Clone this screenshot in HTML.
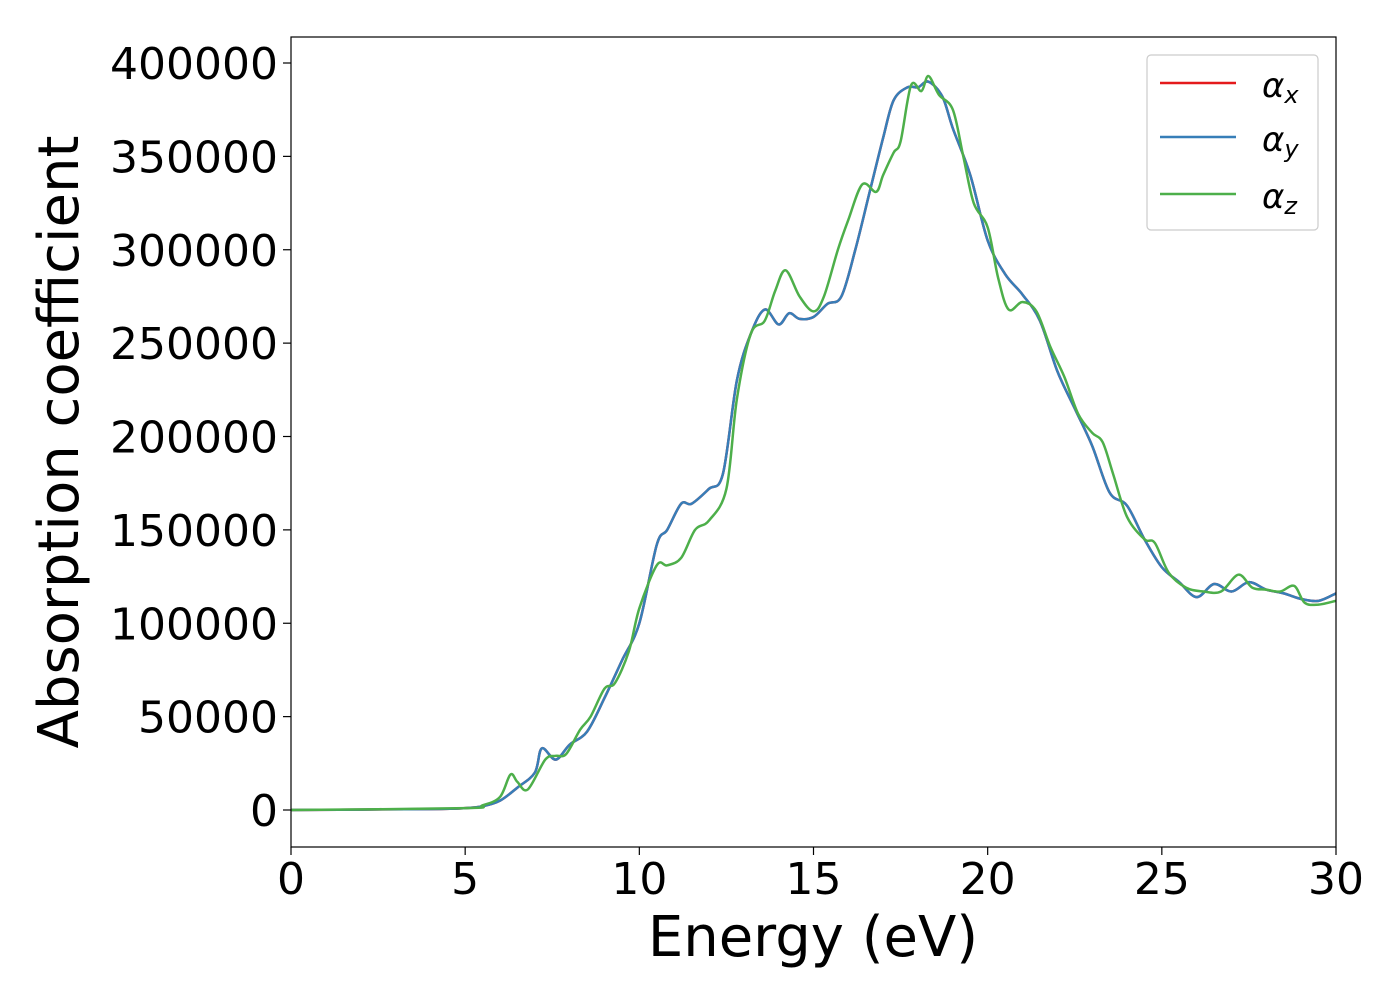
<!DOCTYPE html>
<html><head><meta charset="utf-8"><style>
body{margin:0;background:#fff;}
svg text{font-family:"DejaVu Sans","Liberation Sans",sans-serif;}
</style></head><body>
<svg id="chart" width="1400" height="1000" xmlns="http://www.w3.org/2000/svg">
<rect width="1400" height="1000" fill="#fff"/>
<g id="ticks"></g>
<g id="series"></g>
<rect x="291" y="37" width="1045" height="810" fill="none" stroke="#000" stroke-width="1.2"/>
<text x="813" y="956" font-size="56" text-anchor="middle">Energy (eV)</text>
<text transform="translate(78,442) rotate(-90)" font-size="56" text-anchor="middle">Absorption coefficient</text>
<g>
<rect x="1147" y="55" width="171" height="175" rx="4" fill="#fff" stroke="#ccc" stroke-width="1.2"/>
<line x1="1160" y1="83" x2="1236" y2="83" stroke="#e41a1c" stroke-width="2.5"/>
<line x1="1160" y1="137" x2="1236" y2="137" stroke="#377eb8" stroke-width="2.5"/>
<line x1="1160" y1="194" x2="1236" y2="194" stroke="#4daf4a" stroke-width="2.5"/>
<text x="1262" y="97" font-size="34" font-style="italic">α<tspan font-size="24" dy="6">x</tspan></text>
<text x="1262" y="151" font-size="34" font-style="italic">α<tspan font-size="24" dy="6">y</tspan></text>
<text x="1262" y="208" font-size="34" font-style="italic">α<tspan font-size="24" dy="6">z</tspan></text>
</g>
</svg>
<script>
const xTicks=[0,5,10,15,20,25,30];
const yTicks=[0,50000,100000,150000,200000,250000,300000,350000,400000];
const energyXY=[0,4,5,5.5,6,6.5,7,7.2,7.6,8,8.5,9,9.5,10,10.5,10.8,11.2,11.5,12,12.4,12.8,13.2,13.6,14,14.3,14.6,15,15.4,15.8,16.2,16.6,17,17.3,17.7,18,18.3,18.7,19,19.5,20,20.5,21,21.5,22,22.5,23,23.5,24,24.5,25,25.5,26,26.5,27,27.5,28,28.5,29,29.5,30];
const alphaXY=[0,500,1000,2000,5000,12000,20000,33000,27000,35000,42000,60000,80000,100000,142000,150000,164000,164000,172000,180000,230000,255000,268000,260000,266000,263000,264000,271000,275000,300000,330000,360000,380000,387000,387000,390000,382000,365000,340000,305000,287000,276000,262000,235000,215000,195000,170000,163000,145000,130000,122000,114000,121000,117000,122000,118000,116000,113000,112000,116000];
const energyZ=[0,5,5.5,6,6.3,6.5,6.8,7.3,7.6,7.9,8.3,8.6,9,9.3,9.7,10,10.5,10.8,11.2,11.6,12,12.5,12.8,13.2,13.6,13.9,14.2,14.6,15,15.3,15.7,16,16.4,16.8,17,17.3,17.5,17.8,18.1,18.3,18.6,19,19.3,19.6,20,20.3,20.6,21,21.4,21.8,22.2,22.6,23,23.3,23.6,24,24.5,24.8,25.2,25.7,26.2,26.7,27.2,27.6,28,28.4,28.8,29.1,29.5,30];
const alphaZ=[0,1000,2500,7000,19000,15000,11000,27000,29000,30000,43000,50000,65000,68000,85000,108000,131000,131000,135000,150000,155000,172000,220000,255000,262000,278000,289000,275000,267000,275000,300000,316000,335000,331000,340000,352000,358000,388000,385000,393000,383000,375000,350000,325000,312000,285000,268000,272000,267000,248000,232000,212000,202000,197000,180000,157000,145000,143000,127000,119000,117000,117000,126000,119000,118000,117000,120000,111000,110000,112000];
const NS="http://www.w3.org/2000/svg";
function X(e){return 291+e*(1045/30);}
function Y(v){return 810-v*(747/400000);}
const tg=document.getElementById('ticks');
function mk(tag,attrs,parent){const el=document.createElementNS(NS,tag);for(const k in attrs)el.setAttribute(k,attrs[k]);parent.appendChild(el);return el;}
xTicks.forEach(t=>{
  const l=mk('line',{x1:X(t),x2:X(t),y1:847,y2:855,stroke:'#000','stroke-width':1.2},tg);
  
  
  const tx=mk('text',{x:X(t),y:894,'font-size':44,'text-anchor':'middle'},tg);
  
  
  tx.textContent=t;
});
yTicks.forEach(t=>{
  const l=mk('line',{x1:283,x2:291,y1:Y(t),y2:Y(t),stroke:'#000','stroke-width':1.2},tg);
  
  
  const tx=mk('text',{x:278,y:Y(t)+16,'font-size':44,'text-anchor':'end'},tg);
  
  
  tx.textContent=t;
});
function pathFor(xs,ys){
  const p=xs.map((e,i)=>[X(e),Y(ys[i])]);
  let d='M'+p[0][0]+','+p[0][1];
  for(let i=0;i<p.length-1;i++){
    const p0=p[Math.max(0,i-1)],p1=p[i],p2=p[i+1],p3=p[Math.min(p.length-1,i+2)];
    const c1=[p1[0]+(p2[0]-p0[0])/6,p1[1]+(p2[1]-p0[1])/6];
    const c2=[p2[0]-(p3[0]-p1[0])/6,p2[1]-(p3[1]-p1[1])/6];
    d+=' C'+c1+' '+c2+' '+p2;
  }
  return d;
}
const sg=document.getElementById('series');
const clip=mk('clipPath',{id:'pc'},sg);mk('rect',{x:291,y:37,width:1045,height:810},clip);
const sx=mk('path',{d:pathFor(energyXY,alphaXY),fill:'none',stroke:'#e41a1c','stroke-width':2.5,'clip-path':'url(#pc)'},sg);


const sy=mk('path',{d:pathFor(energyXY,alphaXY),fill:'none',stroke:'#377eb8','stroke-width':2.5,'clip-path':'url(#pc)'},sg);


const sz=mk('path',{d:pathFor(energyZ,alphaZ),fill:'none',stroke:'#4daf4a','stroke-width':2.5,'clip-path':'url(#pc)'},sg);


</script>
</body></html>
